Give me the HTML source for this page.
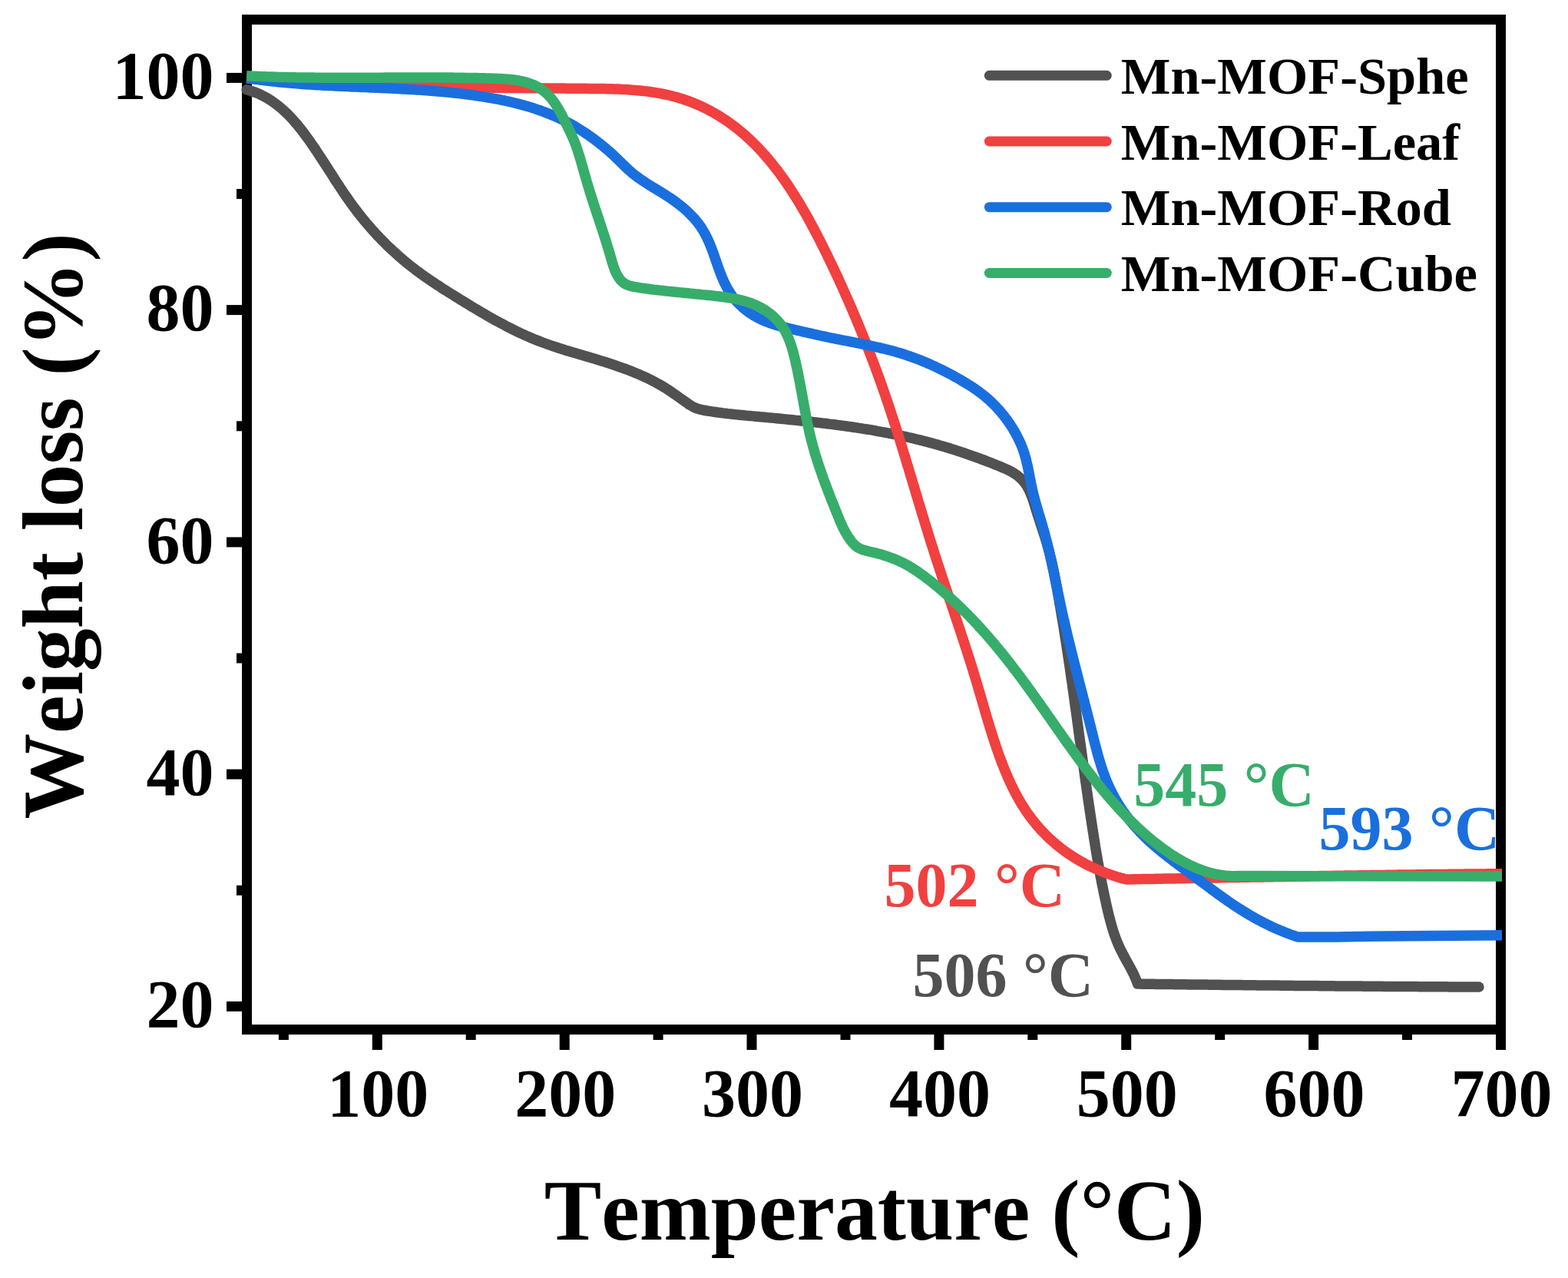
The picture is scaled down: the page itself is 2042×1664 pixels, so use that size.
<!DOCTYPE html>
<html><head><meta charset="utf-8"><title>TGA</title>
<style>html,body{margin:0;padding:0;background:#fff;} svg{display:block;} text{font-kerning:none;}</style></head>
<body>
<svg width="2042" height="1664" viewBox="0 0 2042 1664" font-family="'Liberation Serif', 'Times New Roman', serif" font-weight="bold">
<rect width="2042" height="1664" fill="#fff"/>
<g stroke="#000" stroke-width="13" fill="none">
<rect x="321.5" y="25.5" width="1633" height="1315" />
<line x1="491.3" y1="1340" x2="491.3" y2="1367" /><line x1="735.2" y1="1340" x2="735.2" y2="1367" /><line x1="979.0" y1="1340" x2="979.0" y2="1367" /><line x1="1222.9" y1="1340" x2="1222.9" y2="1367" /><line x1="1466.7" y1="1340" x2="1466.7" y2="1367" /><line x1="1710.6" y1="1340" x2="1710.6" y2="1367" /><line x1="1954.5" y1="1340" x2="1954.5" y2="1367" /><line x1="369.4" y1="1340" x2="369.4" y2="1354" /><line x1="613.2" y1="1340" x2="613.2" y2="1354" /><line x1="857.1" y1="1340" x2="857.1" y2="1354" /><line x1="1101.0" y1="1340" x2="1101.0" y2="1354" /><line x1="1344.8" y1="1340" x2="1344.8" y2="1354" /><line x1="1588.7" y1="1340" x2="1588.7" y2="1354" /><line x1="1832.5" y1="1340" x2="1832.5" y2="1354" /><line x1="295" y1="1310.4" x2="322" y2="1310.4" /><line x1="295" y1="1008.1" x2="322" y2="1008.1" /><line x1="295" y1="705.9" x2="322" y2="705.9" /><line x1="295" y1="403.6" x2="322" y2="403.6" /><line x1="295" y1="101.4" x2="322" y2="101.4" /><line x1="308" y1="1159.3" x2="322" y2="1159.3" /><line x1="308" y1="857.0" x2="322" y2="857.0" /><line x1="308" y1="554.8" x2="322" y2="554.8" /><line x1="308" y1="252.5" x2="322" y2="252.5" />
</g>
<g font-size="88" fill="#000">
<text x="492.3" y="1453" text-anchor="middle">100</text><text x="736.2" y="1453" text-anchor="middle">200</text><text x="980.0" y="1453" text-anchor="middle">300</text><text x="1223.9" y="1453" text-anchor="middle">400</text><text x="1467.7" y="1453" text-anchor="middle">500</text><text x="1711.6" y="1453" text-anchor="middle">600</text><text x="1955.5" y="1453" text-anchor="middle">700</text>
<text x="278.5" y="1337.0" text-anchor="end">20</text><text x="278.5" y="1034.8" text-anchor="end">40</text><text x="278.5" y="732.5" text-anchor="end">60</text><text x="278.5" y="430.2" text-anchor="end">80</text><text x="278.5" y="128.0" text-anchor="end">100</text>
</g>
<g fill="none" stroke-width="13.5" stroke-linejoin="round">
<path d="M321.2,116.8 L324.2,117.6 L327.1,118.5 L330.0,119.5 L332.9,120.5 L335.6,121.6 L338.4,122.8 L341.1,124.1 L343.7,125.5 L346.3,126.9 L348.9,128.4 L351.4,129.9 L353.9,131.5 L356.3,133.2 L358.7,134.9 L361.0,136.7 L363.4,138.6 L365.6,140.5 L367.9,142.4 L370.1,144.4 L372.2,146.4 L374.4,148.5 L376.5,150.6 L378.6,152.8 L380.6,155.0 L382.6,157.2 L384.6,159.5 L386.6,161.8 L388.5,164.1 L390.4,166.5 L392.3,168.8 L394.2,171.2 L396.0,173.7 L397.8,176.1 L399.6,178.6 L401.4,181.0 L403.2,183.5 L404.9,186.0 L406.6,188.5 L408.3,191.0 L410.1,193.5 L411.7,196.0 L413.4,198.5 L415.1,201.1 L416.7,203.6 L418.4,206.1 L420.0,208.6 L421.7,211.1 L423.3,213.7 L424.9,216.2 L426.5,218.7 L428.1,221.2 L429.8,223.7 L431.4,226.2 L433.0,228.7 L434.6,231.3 L436.2,233.8 L437.8,236.3 L439.5,238.8 L441.1,241.2 L442.7,243.7 L444.4,246.2 L446.0,248.7 L447.7,251.2 L449.4,253.6 L451.1,256.1 L452.8,258.5 L454.5,261.0 L456.2,263.4 L457.9,265.8 L459.7,268.2 L461.5,270.6 L463.3,273.0 L465.1,275.4 L466.9,277.8 L468.8,280.1 L470.6,282.5 L472.5,284.8 L474.4,287.1 L476.4,289.5 L478.3,291.8 L480.3,294.0 L482.2,296.3 L484.2,298.6 L486.3,300.8 L488.3,303.1 L490.3,305.3 L492.4,307.5 L494.5,309.7 L496.6,311.8 L498.7,314.0 L500.8,316.1 L502.9,318.2 L505.1,320.4 L507.3,322.4 L509.5,324.5 L511.7,326.6 L513.9,328.6 L516.1,330.6 L518.3,332.6 L520.6,334.6 L522.9,336.5 L525.1,338.5 L527.4,340.4 L529.7,342.3 L532.1,344.2 L534.4,346.0 L536.7,347.9 L539.1,349.7 L541.4,351.5 L543.8,353.3 L546.2,355.0 L548.6,356.8 L551.0,358.5 L553.4,360.2 L555.9,361.9 L558.3,363.6 L560.8,365.2 L563.2,366.9 L565.7,368.5 L568.1,370.2 L570.6,371.8 L573.1,373.4 L575.6,375.1 L578.1,376.7 L580.7,378.3 L583.2,379.9 L585.7,381.5 L588.2,383.0 L590.8,384.6 L593.3,386.2 L595.9,387.8 L598.5,389.4 L601.0,391.0 L603.6,392.6 L606.2,394.2 L608.8,395.7 L611.4,397.3 L614.0,398.9 L616.6,400.5 L619.2,402.0 L621.8,403.6 L624.4,405.1 L627.1,406.7 L629.7,408.2 L632.4,409.8 L635.0,411.3 L637.7,412.8 L640.3,414.3 L643.0,415.8 L645.6,417.3 L648.3,418.7 L651.0,420.2 L653.7,421.6 L656.4,423.0 L659.0,424.5 L661.7,425.9 L664.4,427.2 L667.2,428.6 L669.9,429.9 L672.6,431.3 L675.3,432.6 L678.0,433.9 L680.8,435.1 L683.5,436.4 L686.2,437.6 L689.0,438.8 L691.7,440.0 L694.5,441.1 L697.2,442.3 L700.0,443.4 L702.7,444.4 L705.5,445.5 L708.3,446.5 L711.1,447.5 L713.8,448.5 L716.6,449.5 L719.4,450.5 L722.2,451.4 L725.0,452.3 L727.8,453.2 L730.6,454.1 L733.4,455.0 L736.2,455.9 L739.0,456.7 L741.8,457.6 L744.6,458.4 L747.4,459.3 L750.3,460.1 L753.1,460.9 L755.9,461.8 L758.7,462.6 L761.6,463.4 L764.4,464.3 L767.2,465.1 L770.1,465.9 L772.9,466.8 L775.8,467.6 L778.6,468.5 L781.5,469.4 L784.3,470.2 L787.2,471.1 L790.0,472.0 L792.9,472.9 L795.7,473.9 L798.6,474.8 L801.5,475.8 L804.3,476.8 L807.2,477.8 L810.1,478.8 L812.9,479.8 L815.8,480.9 L818.7,482.0 L821.6,483.1 L824.4,484.2 L827.3,485.4 L830.1,486.6 L833.0,487.8 L835.8,489.1 L838.6,490.3 L841.4,491.6 L844.2,492.9 L846.9,494.3 L849.6,495.7 L852.3,497.0 L854.9,498.5 L857.6,499.9 L860.1,501.4 L862.7,502.9 L865.2,504.4 L867.6,505.9 L870.1,507.5 L872.5,509.1 L874.9,510.7 L877.3,512.4 L879.7,514.1 L882.1,515.8 L884.6,517.5 L887.0,519.2 L889.5,521.0 L892.0,522.8 L894.5,524.6 L897.1,526.4 L899.7,528.0 L902.3,529.5 L905.0,530.8 L907.7,531.8 L910.4,532.7 L913.2,533.4 L915.9,534.0 L918.7,534.5 L921.5,535.0 L924.4,535.4 L927.2,535.9 L930.1,536.3 L933.0,536.7 L935.9,537.1 L938.9,537.5 L941.8,537.9 L944.8,538.2 L947.8,538.6 L950.7,538.9 L953.7,539.3 L956.7,539.6 L959.8,539.9 L962.8,540.2 L965.8,540.5 L968.8,540.8 L971.9,541.1 L974.9,541.4 L978.0,541.6 L981.0,541.9 L984.1,542.2 L987.1,542.5 L990.2,542.8 L993.2,543.0 L996.2,543.3 L999.3,543.6 L1002.3,543.9 L1005.3,544.1 L1008.4,544.4 L1011.4,544.7 L1014.4,545.0 L1017.4,545.3 L1020.4,545.6 L1023.5,545.9 L1026.5,546.2 L1029.5,546.5 L1032.5,546.8 L1035.5,547.1 L1038.5,547.4 L1041.5,547.7 L1044.5,548.0 L1047.5,548.3 L1050.5,548.6 L1053.5,549.0 L1056.5,549.3 L1059.5,549.6 L1062.5,549.9 L1065.4,550.3 L1068.4,550.6 L1071.4,551.0 L1074.4,551.3 L1077.4,551.7 L1080.3,552.1 L1083.3,552.4 L1086.3,552.8 L1089.3,553.2 L1092.2,553.6 L1095.2,554.0 L1098.1,554.4 L1101.1,554.8 L1104.1,555.2 L1107.0,555.6 L1110.0,556.0 L1112.9,556.5 L1115.9,556.9 L1118.8,557.4 L1121.8,557.8 L1124.7,558.3 L1127.7,558.8 L1130.6,559.2 L1133.5,559.7 L1136.5,560.2 L1139.4,560.7 L1142.3,561.3 L1145.3,561.8 L1148.2,562.3 L1151.1,562.8 L1154.1,563.4 L1157.0,564.0 L1159.9,564.5 L1162.8,565.1 L1165.7,565.7 L1168.7,566.3 L1171.6,566.9 L1174.5,567.5 L1177.4,568.2 L1180.3,568.8 L1183.2,569.5 L1186.1,570.1 L1189.0,570.8 L1191.9,571.5 L1194.8,572.2 L1197.7,572.9 L1200.6,573.6 L1203.5,574.4 L1206.4,575.1 L1209.3,575.9 L1212.2,576.6 L1215.1,577.4 L1218.0,578.2 L1220.9,579.0 L1223.8,579.9 L1226.7,580.7 L1229.6,581.6 L1232.4,582.4 L1235.3,583.3 L1238.2,584.2 L1241.1,585.1 L1244.0,586.0 L1246.8,587.0 L1249.7,587.9 L1252.6,588.9 L1255.4,589.8 L1258.3,590.8 L1261.2,591.8 L1264.0,592.8 L1266.9,593.8 L1269.8,594.8 L1272.6,595.9 L1275.5,596.9 L1278.3,598.0 L1281.2,599.0 L1284.0,600.1 L1286.8,601.2 L1289.7,602.3 L1292.5,603.4 L1295.3,604.6 L1298.2,605.7 L1301.0,606.8 L1303.8,608.0 L1306.6,609.2 L1309.4,610.4 L1312.1,611.6 L1314.8,613.0 L1317.4,614.3 L1320.0,615.8 L1322.4,617.4 L1324.8,619.1 L1327.0,620.9 L1329.2,622.8 L1331.2,624.8 L1333.1,627.0 L1334.8,629.3 L1336.5,631.6 L1338.0,634.1 L1339.4,636.6 L1340.7,639.2 L1341.9,641.9 L1343.0,644.6 L1344.1,647.4 L1345.1,650.2 L1346.0,653.1 L1346.9,655.9 L1347.8,658.8 L1348.7,661.8 L1349.6,664.7 L1350.5,667.6 L1351.4,670.5 L1352.4,673.4 L1353.3,676.3 L1354.3,679.3 L1355.2,682.2 L1356.2,685.1 L1357.1,688.0 L1358.1,690.9 L1359.0,693.8 L1360.0,696.7 L1360.9,699.6 L1361.8,702.6 L1362.7,705.5 L1363.5,708.4 L1364.4,711.3 L1365.2,714.2 L1366.0,717.1 L1366.7,720.0 L1367.5,723.0 L1368.2,725.9 L1368.9,728.8 L1369.6,731.7 L1370.2,734.6 L1370.9,737.5 L1371.5,740.4 L1372.1,743.4 L1372.7,746.3 L1373.3,749.2 L1373.8,752.1 L1374.4,755.0 L1375.0,758.0 L1375.5,760.9 L1376.0,763.8 L1376.6,766.8 L1377.1,769.7 L1377.6,772.6 L1378.2,775.5 L1378.7,778.5 L1379.2,781.4 L1379.7,784.3 L1380.2,787.3 L1380.7,790.2 L1381.2,793.2 L1381.7,796.1 L1382.2,799.0 L1382.7,802.0 L1383.2,804.9 L1383.7,807.9 L1384.2,810.8 L1384.7,813.8 L1385.2,816.7 L1385.6,819.7 L1386.1,822.6 L1386.6,825.6 L1387.0,828.5 L1387.5,831.5 L1388.0,834.4 L1388.4,837.4 L1388.9,840.3 L1389.3,843.3 L1389.8,846.2 L1390.2,849.2 L1390.7,852.2 L1391.1,855.1 L1391.6,858.1 L1392.0,861.0 L1392.4,864.0 L1392.9,867.0 L1393.3,869.9 L1393.7,872.9 L1394.2,875.9 L1394.6,878.8 L1395.0,881.8 L1395.4,884.8 L1395.9,887.7 L1396.3,890.7 L1396.7,893.7 L1397.1,896.6 L1397.6,899.6 L1398.0,902.6 L1398.4,905.6 L1398.8,908.5 L1399.2,911.5 L1399.6,914.5 L1400.0,917.4 L1400.4,920.4 L1400.9,923.4 L1401.3,926.4 L1401.7,929.3 L1402.1,932.3 L1402.5,935.3 L1402.9,938.3 L1403.3,941.3 L1403.7,944.2 L1404.1,947.2 L1404.5,950.2 L1404.9,953.2 L1405.3,956.1 L1405.7,959.1 L1406.1,962.1 L1406.5,965.1 L1407.0,968.1 L1407.4,971.0 L1407.8,974.0 L1408.2,977.0 L1408.6,980.0 L1409.0,983.0 L1409.4,985.9 L1409.8,988.9 L1410.2,991.9 L1410.6,994.9 L1411.0,997.9 L1411.5,1000.8 L1411.9,1003.8 L1412.3,1006.8 L1412.7,1009.8 L1413.1,1012.8 L1413.5,1015.7 L1413.9,1018.7 L1414.4,1021.7 L1414.8,1024.7 L1415.2,1027.7 L1415.6,1030.6 L1416.1,1033.6 L1416.5,1036.6 L1416.9,1039.6 L1417.3,1042.6 L1417.8,1045.5 L1418.2,1048.5 L1418.7,1051.5 L1419.1,1054.5 L1419.5,1057.4 L1420.0,1060.4 L1420.4,1063.4 L1420.9,1066.4 L1421.3,1069.3 L1421.8,1072.3 L1422.2,1075.3 L1422.7,1078.3 L1423.1,1081.2 L1423.6,1084.2 L1424.1,1087.2 L1424.5,1090.2 L1425.0,1093.1 L1425.5,1096.1 L1426.0,1099.1 L1426.4,1102.0 L1426.9,1105.0 L1427.4,1108.0 L1427.9,1110.9 L1428.4,1113.9 L1428.9,1116.9 L1429.4,1119.8 L1429.9,1122.8 L1430.5,1125.7 L1431.0,1128.7 L1431.5,1131.6 L1432.1,1134.6 L1432.6,1137.5 L1433.1,1140.5 L1433.7,1143.4 L1434.3,1146.3 L1434.8,1149.3 L1435.4,1152.2 L1436.0,1155.1 L1436.6,1158.0 L1437.2,1161.0 L1437.8,1163.9 L1438.4,1166.8 L1439.0,1169.7 L1439.7,1172.6 L1440.3,1175.5 L1440.9,1178.4 L1441.6,1181.3 L1442.3,1184.1 L1442.9,1187.0 L1443.6,1189.9 L1444.3,1192.8 L1445.1,1195.6 L1445.8,1198.5 L1446.6,1201.3 L1447.4,1204.2 L1448.2,1207.0 L1449.0,1209.8 L1449.9,1212.7 L1450.8,1215.5 L1451.8,1218.3 L1452.8,1221.1 L1453.9,1223.9 L1455.0,1226.7 L1456.2,1229.5 L1457.4,1232.3 L1458.7,1235.1 L1460.1,1237.8 L1461.5,1240.6 L1462.9,1243.4 L1464.4,1246.1 L1465.9,1248.9 L1467.4,1251.6 L1468.9,1254.3 L1470.4,1257.0 L1471.9,1259.7 L1473.3,1262.4 L1474.7,1265.1 L1476.1,1267.8 L1477.3,1270.5 L1478.5,1273.2 L1479.6,1275.8 L1480.6,1278.5 L1481.5,1281.1 L1481.5,1281.1 L1484.5,1281.1 L1487.5,1281.2 L1490.5,1281.2 L1493.5,1281.2 L1496.5,1281.3 L1499.5,1281.3 L1502.5,1281.3 L1505.5,1281.4 L1508.5,1281.4 L1511.5,1281.4 L1514.5,1281.5 L1517.5,1281.5 L1520.5,1281.6 L1523.5,1281.6 L1526.5,1281.6 L1529.6,1281.7 L1532.6,1281.7 L1535.6,1281.7 L1538.6,1281.8 L1541.6,1281.8 L1544.6,1281.8 L1547.6,1281.9 L1550.6,1281.9 L1553.6,1281.9 L1556.6,1282.0 L1559.6,1282.0 L1562.6,1282.0 L1565.6,1282.1 L1568.6,1282.1 L1571.6,1282.1 L1574.6,1282.2 L1577.6,1282.2 L1580.6,1282.2 L1583.6,1282.3 L1586.6,1282.3 L1589.6,1282.3 L1592.6,1282.4 L1595.6,1282.4 L1598.6,1282.4 L1601.6,1282.5 L1604.6,1282.5 L1607.6,1282.5 L1610.6,1282.6 L1613.6,1282.6 L1616.6,1282.6 L1619.7,1282.7 L1622.7,1282.7 L1625.7,1282.7 L1628.7,1282.8 L1631.7,1282.8 L1634.7,1282.8 L1637.7,1282.9 L1640.7,1282.9 L1643.7,1282.9 L1646.7,1283.0 L1649.7,1283.0 L1652.7,1283.0 L1655.7,1283.1 L1658.7,1283.1 L1661.7,1283.1 L1664.7,1283.1 L1667.7,1283.2 L1670.7,1283.2 L1673.7,1283.2 L1676.7,1283.3 L1679.7,1283.3 L1682.7,1283.3 L1685.7,1283.4 L1688.7,1283.4 L1691.7,1283.4 L1694.7,1283.4 L1697.7,1283.5 L1700.7,1283.5 L1703.7,1283.5 L1706.7,1283.6 L1709.8,1283.6 L1712.8,1283.6 L1715.8,1283.6 L1718.8,1283.7 L1721.8,1283.7 L1724.8,1283.7 L1727.8,1283.8 L1730.8,1283.8 L1733.8,1283.8 L1736.8,1283.8 L1739.8,1283.9 L1742.8,1283.9 L1745.8,1283.9 L1748.8,1283.9 L1751.8,1284.0 L1754.8,1284.0 L1757.8,1284.0 L1760.8,1284.0 L1763.8,1284.1 L1766.8,1284.1 L1769.8,1284.1 L1772.8,1284.1 L1775.8,1284.2 L1778.8,1284.2 L1781.8,1284.2 L1784.8,1284.2 L1787.8,1284.3 L1790.8,1284.3 L1793.8,1284.3 L1796.9,1284.3 L1799.9,1284.3 L1802.9,1284.4 L1805.9,1284.4 L1808.9,1284.4 L1811.9,1284.4 L1814.9,1284.4 L1817.9,1284.5 L1820.9,1284.5 L1823.9,1284.5 L1826.9,1284.5 L1829.9,1284.5 L1832.9,1284.6 L1835.9,1284.6 L1838.9,1284.6 L1841.9,1284.6 L1844.9,1284.6 L1847.9,1284.7 L1850.9,1284.7 L1853.9,1284.7 L1856.9,1284.7 L1859.9,1284.7 L1862.9,1284.7 L1865.9,1284.8 L1868.9,1284.8 L1871.9,1284.8 L1874.9,1284.8 L1877.9,1284.8 L1880.9,1284.8 L1884.0,1284.8 L1887.0,1284.9 L1890.0,1284.9 L1893.0,1284.9 L1896.0,1284.9 L1899.0,1284.9 L1902.0,1284.9 L1905.0,1284.9 L1908.0,1284.9 L1911.0,1285.0 L1914.0,1285.0 L1917.0,1285.0 L1920.0,1285.0 L1923.0,1285.0 L1926.0,1285.0" stroke="#515151" stroke-linecap="round" />
<path d="M321.2,102.0 L324.2,102.2 L327.3,102.4 L330.3,102.6 L333.3,102.8 L336.4,103.0 L339.4,103.2 L342.4,103.4 L345.5,103.6 L348.5,103.8 L351.5,104.0 L354.5,104.2 L357.6,104.4 L360.6,104.6 L363.6,104.7 L366.6,104.9 L369.6,105.1 L372.6,105.3 L375.6,105.4 L378.7,105.6 L381.7,105.8 L384.7,105.9 L387.7,106.1 L390.7,106.3 L393.7,106.4 L396.7,106.6 L399.7,106.8 L402.7,106.9 L405.7,107.1 L408.7,107.2 L411.7,107.4 L414.7,107.5 L417.7,107.7 L420.7,107.8 L423.7,107.9 L426.7,108.1 L429.7,108.2 L432.7,108.3 L435.7,108.5 L438.7,108.6 L441.7,108.7 L444.7,108.9 L447.6,109.0 L450.6,109.1 L453.6,109.2 L456.6,109.4 L459.6,109.5 L462.6,109.6 L465.6,109.7 L468.6,109.8 L471.5,110.0 L474.5,110.1 L477.5,110.2 L480.5,110.3 L483.5,110.4 L486.5,110.5 L489.4,110.6 L492.4,110.7 L495.4,110.8 L498.4,110.9 L501.4,111.0 L504.4,111.1 L507.3,111.2 L510.3,111.3 L513.3,111.4 L516.3,111.5 L519.3,111.6 L522.2,111.6 L525.2,111.7 L528.2,111.8 L531.2,111.9 L534.2,112.0 L537.1,112.1 L540.1,112.1 L543.1,112.2 L546.1,112.3 L549.1,112.4 L552.1,112.4 L555.0,112.5 L558.0,112.6 L561.0,112.7 L564.0,112.7 L567.0,112.8 L569.9,112.9 L572.9,112.9 L575.9,113.0 L578.9,113.1 L581.9,113.1 L584.9,113.2 L587.9,113.2 L590.8,113.3 L593.8,113.4 L596.8,113.4 L599.8,113.5 L602.8,113.5 L605.8,113.6 L608.8,113.6 L611.8,113.7 L614.8,113.7 L617.8,113.8 L620.7,113.8 L623.7,113.9 L626.7,113.9 L629.7,114.0 L632.7,114.0 L635.7,114.1 L638.7,114.1 L641.7,114.2 L644.7,114.2 L647.7,114.2 L650.7,114.3 L653.7,114.3 L656.7,114.4 L659.7,114.4 L662.8,114.4 L665.8,114.5 L668.8,114.5 L671.8,114.5 L674.8,114.6 L677.8,114.6 L680.8,114.6 L683.8,114.7 L686.9,114.7 L689.9,114.7 L692.9,114.8 L695.9,114.8 L698.9,114.8 L702.0,114.9 L705.0,114.9 L708.0,114.9 L711.0,114.9 L714.1,115.0 L717.1,115.0 L720.1,115.0 L723.2,115.0 L726.2,115.1 L729.3,115.1 L732.3,115.1 L735.3,115.1 L738.4,115.2 L741.4,115.2 L744.5,115.2 L747.5,115.2 L750.6,115.3 L753.6,115.3 L756.7,115.3 L759.7,115.3 L762.8,115.3 L765.9,115.4 L768.9,115.4 L772.0,115.4 L775.0,115.4 L778.1,115.5 L781.2,115.5 L784.2,115.6 L787.3,115.6 L790.4,115.7 L793.4,115.7 L796.5,115.8 L799.5,115.9 L802.6,116.0 L805.6,116.1 L808.7,116.3 L811.7,116.4 L814.8,116.6 L817.8,116.8 L820.8,117.0 L823.8,117.2 L826.9,117.4 L829.9,117.7 L832.9,118.0 L835.9,118.3 L838.9,118.6 L841.9,118.9 L844.8,119.3 L847.8,119.7 L850.8,120.1 L853.7,120.6 L856.7,121.1 L859.6,121.6 L862.5,122.2 L865.4,122.8 L868.3,123.4 L871.2,124.0 L874.1,124.7 L877.0,125.5 L879.8,126.2 L882.7,127.0 L885.5,127.9 L888.3,128.7 L891.1,129.7 L893.9,130.6 L896.7,131.6 L899.5,132.7 L902.2,133.7 L904.9,134.9 L907.7,136.0 L910.4,137.2 L913.0,138.4 L915.7,139.7 L918.4,141.0 L921.0,142.3 L923.6,143.6 L926.2,145.0 L928.8,146.5 L931.3,147.9 L933.9,149.4 L936.4,150.9 L938.9,152.5 L941.4,154.1 L943.8,155.7 L946.3,157.3 L948.7,159.0 L951.1,160.7 L953.5,162.4 L955.8,164.2 L958.2,166.0 L960.5,167.8 L962.7,169.6 L965.0,171.5 L967.2,173.4 L969.5,175.3 L971.7,177.3 L973.8,179.2 L976.0,181.2 L978.1,183.3 L980.3,185.3 L982.3,187.4 L984.4,189.4 L986.5,191.6 L988.5,193.7 L990.5,195.8 L992.5,198.0 L994.5,200.2 L996.5,202.4 L998.4,204.7 L1000.4,206.9 L1002.3,209.2 L1004.2,211.5 L1006.0,213.8 L1007.9,216.2 L1009.7,218.5 L1011.6,220.9 L1013.4,223.3 L1015.2,225.7 L1016.9,228.1 L1018.7,230.5 L1020.5,233.0 L1022.2,235.4 L1023.9,237.9 L1025.6,240.4 L1027.3,242.9 L1029.0,245.4 L1030.6,248.0 L1032.3,250.5 L1033.9,253.1 L1035.5,255.6 L1037.1,258.2 L1038.7,260.8 L1040.3,263.4 L1041.9,266.0 L1043.5,268.7 L1045.0,271.3 L1046.5,273.9 L1048.1,276.6 L1049.6,279.3 L1051.1,281.9 L1052.6,284.6 L1054.1,287.3 L1055.5,290.0 L1057.0,292.7 L1058.4,295.4 L1059.9,298.1 L1061.3,300.8 L1062.7,303.5 L1064.2,306.3 L1065.6,309.0 L1067.0,311.7 L1068.4,314.5 L1069.7,317.2 L1071.1,319.9 L1072.5,322.7 L1073.8,325.4 L1075.2,328.2 L1076.6,330.9 L1077.9,333.7 L1079.2,336.4 L1080.6,339.2 L1081.9,341.9 L1083.2,344.7 L1084.5,347.4 L1085.8,350.2 L1087.1,352.9 L1088.4,355.7 L1089.7,358.4 L1091.0,361.2 L1092.3,363.9 L1093.5,366.7 L1094.8,369.4 L1096.0,372.2 L1097.3,375.0 L1098.5,377.7 L1099.8,380.5 L1101.0,383.2 L1102.2,386.0 L1103.5,388.8 L1104.7,391.5 L1105.9,394.3 L1107.1,397.1 L1108.3,399.8 L1109.5,402.6 L1110.7,405.4 L1111.8,408.1 L1113.0,410.9 L1114.2,413.7 L1115.4,416.4 L1116.5,419.2 L1117.7,422.0 L1118.8,424.7 L1119.9,427.5 L1121.1,430.3 L1122.2,433.1 L1123.3,435.8 L1124.5,438.6 L1125.6,441.4 L1126.7,444.2 L1127.8,447.0 L1128.9,449.7 L1130.0,452.5 L1131.0,455.3 L1132.1,458.1 L1133.2,460.9 L1134.3,463.7 L1135.3,466.5 L1136.4,469.2 L1137.4,472.0 L1138.5,474.8 L1139.5,477.6 L1140.6,480.4 L1141.6,483.2 L1142.6,486.0 L1143.6,488.8 L1144.7,491.6 L1145.7,494.4 L1146.7,497.2 L1147.7,500.0 L1148.7,502.8 L1149.6,505.6 L1150.6,508.4 L1151.6,511.2 L1152.6,514.0 L1153.6,516.8 L1154.5,519.7 L1155.5,522.5 L1156.4,525.3 L1157.4,528.1 L1158.3,530.9 L1159.3,533.7 L1160.2,536.6 L1161.1,539.4 L1162.0,542.2 L1163.0,545.0 L1163.9,547.9 L1164.8,550.7 L1165.7,553.5 L1166.6,556.3 L1167.5,559.2 L1168.4,562.0 L1169.3,564.8 L1170.2,567.7 L1171.1,570.5 L1172.0,573.3 L1172.8,576.2 L1173.7,579.0 L1174.6,581.9 L1175.5,584.7 L1176.3,587.5 L1177.2,590.4 L1178.1,593.2 L1179.0,596.1 L1179.8,598.9 L1180.7,601.8 L1181.5,604.6 L1182.4,607.5 L1183.3,610.3 L1184.1,613.2 L1185.0,616.0 L1185.8,618.9 L1186.7,621.7 L1187.6,624.6 L1188.4,627.4 L1189.3,630.3 L1190.1,633.1 L1191.0,636.0 L1191.8,638.9 L1192.7,641.7 L1193.5,644.6 L1194.4,647.4 L1195.3,650.3 L1196.1,653.2 L1197.0,656.0 L1197.9,658.9 L1198.7,661.8 L1199.6,664.6 L1200.4,667.5 L1201.3,670.4 L1202.2,673.2 L1203.1,676.1 L1203.9,679.0 L1204.8,681.8 L1205.7,684.7 L1206.6,687.6 L1207.5,690.4 L1208.4,693.3 L1209.2,696.2 L1210.1,699.1 L1211.0,701.9 L1211.9,704.8 L1212.8,707.7 L1213.8,710.6 L1214.7,713.4 L1215.6,716.3 L1216.5,719.2 L1217.4,722.1 L1218.4,724.9 L1219.3,727.8 L1220.2,730.7 L1221.2,733.6 L1222.1,736.5 L1223.1,739.3 L1224.0,742.2 L1225.0,745.1 L1225.9,748.0 L1226.9,750.9 L1227.8,753.7 L1228.8,756.6 L1229.7,759.5 L1230.7,762.4 L1231.7,765.3 L1232.6,768.1 L1233.6,771.0 L1234.6,773.9 L1235.5,776.8 L1236.5,779.7 L1237.5,782.5 L1238.5,785.4 L1239.4,788.3 L1240.4,791.2 L1241.4,794.1 L1242.3,797.0 L1243.3,799.8 L1244.3,802.7 L1245.2,805.6 L1246.2,808.5 L1247.2,811.4 L1248.1,814.2 L1249.1,817.1 L1250.1,820.0 L1251.0,822.9 L1252.0,825.8 L1252.9,828.7 L1253.9,831.5 L1254.8,834.4 L1255.8,837.3 L1256.7,840.2 L1257.6,843.1 L1258.6,845.9 L1259.5,848.8 L1260.4,851.7 L1261.3,854.6 L1262.3,857.5 L1263.2,860.3 L1264.1,863.2 L1265.0,866.1 L1265.9,869.0 L1266.8,871.8 L1267.7,874.7 L1268.5,877.6 L1269.4,880.5 L1270.3,883.3 L1271.2,886.2 L1272.0,889.1 L1272.9,892.0 L1273.7,894.8 L1274.6,897.7 L1275.4,900.6 L1276.3,903.5 L1277.1,906.3 L1277.9,909.2 L1278.8,912.1 L1279.6,914.9 L1280.4,917.8 L1281.3,920.7 L1282.1,923.5 L1282.9,926.4 L1283.8,929.3 L1284.6,932.1 L1285.5,935.0 L1286.3,937.8 L1287.2,940.7 L1288.1,943.5 L1288.9,946.4 L1289.8,949.2 L1290.7,952.1 L1291.6,954.9 L1292.5,957.8 L1293.4,960.6 L1294.3,963.4 L1295.3,966.3 L1296.2,969.1 L1297.2,971.9 L1298.1,974.8 L1299.1,977.6 L1300.1,980.4 L1301.1,983.2 L1302.1,986.1 L1303.2,988.9 L1304.2,991.7 L1305.3,994.5 L1306.4,997.3 L1307.5,1000.1 L1308.6,1002.9 L1309.8,1005.6 L1310.9,1008.4 L1312.1,1011.2 L1313.3,1013.9 L1314.6,1016.7 L1315.8,1019.4 L1317.1,1022.1 L1318.4,1024.8 L1319.7,1027.5 L1321.1,1030.1 L1322.4,1032.8 L1323.8,1035.4 L1325.3,1038.0 L1326.7,1040.6 L1328.2,1043.2 L1329.7,1045.7 L1331.2,1048.2 L1332.8,1050.7 L1334.4,1053.2 L1336.0,1055.7 L1337.7,1058.1 L1339.4,1060.5 L1341.1,1062.9 L1342.9,1065.3 L1344.7,1067.6 L1346.5,1069.9 L1348.3,1072.1 L1350.2,1074.4 L1352.1,1076.6 L1354.1,1078.8 L1356.0,1081.0 L1358.0,1083.1 L1360.1,1085.2 L1362.1,1087.3 L1364.2,1089.3 L1366.3,1091.4 L1368.5,1093.3 L1370.7,1095.3 L1372.9,1097.2 L1375.1,1099.1 L1377.4,1101.0 L1379.7,1102.9 L1382.0,1104.7 L1384.3,1106.5 L1386.7,1108.2 L1389.1,1109.9 L1391.6,1111.6 L1394.0,1113.3 L1396.5,1114.9 L1399.0,1116.5 L1401.6,1118.1 L1404.1,1119.6 L1406.7,1121.1 L1409.3,1122.6 L1412.0,1124.0 L1414.7,1125.4 L1417.4,1126.8 L1420.1,1128.1 L1422.8,1129.4 L1425.6,1130.7 L1428.4,1131.9 L1431.2,1133.1 L1434.1,1134.3 L1437.0,1135.4 L1439.9,1136.6 L1442.8,1137.6 L1445.7,1138.7 L1448.7,1139.7 L1451.7,1140.6 L1454.7,1141.6 L1457.7,1142.5 L1460.8,1143.4 L1463.9,1144.2 L1467.0,1145.0 L1467.0,1145.0 L1470.0,1144.9 L1473.0,1144.9 L1476.0,1144.8 L1479.0,1144.8 L1482.0,1144.7 L1485.0,1144.7 L1488.0,1144.6 L1491.0,1144.6 L1494.0,1144.5 L1497.0,1144.5 L1500.0,1144.4 L1503.0,1144.4 L1506.0,1144.3 L1509.0,1144.3 L1512.0,1144.2 L1515.0,1144.1 L1518.0,1144.1 L1521.0,1144.0 L1524.0,1144.0 L1527.0,1143.9 L1530.0,1143.9 L1533.0,1143.8 L1536.0,1143.8 L1539.0,1143.7 L1542.0,1143.7 L1545.0,1143.6 L1548.0,1143.6 L1551.0,1143.5 L1554.0,1143.4 L1557.0,1143.4 L1560.0,1143.3 L1563.0,1143.3 L1566.0,1143.2 L1569.0,1143.2 L1572.0,1143.1 L1575.0,1143.1 L1578.0,1143.0 L1581.0,1143.0 L1584.0,1142.9 L1587.0,1142.9 L1590.0,1142.8 L1593.0,1142.8 L1596.0,1142.7 L1599.0,1142.6 L1602.0,1142.6 L1605.0,1142.5 L1608.0,1142.5 L1611.0,1142.4 L1614.0,1142.4 L1617.0,1142.3 L1620.0,1142.3 L1623.0,1142.2 L1626.0,1142.2 L1629.0,1142.1 L1632.0,1142.1 L1635.0,1142.0 L1638.0,1142.0 L1641.0,1141.9 L1644.0,1141.9 L1647.0,1141.8 L1650.0,1141.8 L1653.0,1141.7 L1656.0,1141.7 L1659.0,1141.6 L1662.0,1141.6 L1665.0,1141.5 L1668.0,1141.5 L1671.0,1141.4 L1674.0,1141.4 L1677.0,1141.3 L1680.0,1141.3 L1683.0,1141.2 L1686.0,1141.2 L1689.0,1141.1 L1692.0,1141.1 L1695.0,1141.0 L1698.0,1141.0 L1701.0,1140.9 L1704.0,1140.9 L1707.0,1140.8 L1710.0,1140.8 L1713.0,1140.7 L1716.0,1140.7 L1719.0,1140.6 L1722.0,1140.6 L1725.0,1140.5 L1728.0,1140.5 L1731.0,1140.4 L1734.0,1140.4 L1737.0,1140.3 L1740.0,1140.3 L1743.0,1140.2 L1746.0,1140.2 L1749.0,1140.2 L1752.0,1140.1 L1755.0,1140.1 L1758.0,1140.0 L1761.0,1140.0 L1764.0,1139.9 L1767.0,1139.9 L1770.0,1139.8 L1773.0,1139.8 L1776.0,1139.8 L1779.0,1139.7 L1782.0,1139.7 L1785.0,1139.6 L1788.0,1139.6 L1791.0,1139.5 L1794.0,1139.5 L1797.0,1139.5 L1800.0,1139.4 L1803.0,1139.4 L1806.0,1139.3 L1809.0,1139.3 L1812.0,1139.3 L1815.0,1139.2 L1818.0,1139.2 L1821.0,1139.1 L1824.0,1139.1 L1827.0,1139.1 L1830.0,1139.0 L1833.0,1139.0 L1836.0,1138.9 L1839.0,1138.9 L1842.0,1138.9 L1845.0,1138.8 L1848.0,1138.8 L1851.0,1138.8 L1854.0,1138.7 L1857.0,1138.7 L1860.0,1138.6 L1863.0,1138.6 L1866.0,1138.6 L1869.0,1138.5 L1872.0,1138.5 L1875.0,1138.5 L1878.0,1138.4 L1881.0,1138.4 L1884.0,1138.4 L1887.0,1138.3 L1890.0,1138.3 L1893.0,1138.3 L1896.0,1138.2 L1899.0,1138.2 L1902.0,1138.2 L1905.0,1138.2 L1908.0,1138.1 L1911.0,1138.1 L1914.0,1138.1 L1917.0,1138.0 L1920.0,1138.0 L1923.0,1138.0 L1926.0,1138.0 L1929.0,1137.9 L1932.0,1137.9 L1935.0,1137.9 L1938.0,1137.8 L1941.0,1137.8 L1944.0,1137.8 L1947.0,1137.8 L1950.0,1137.7 L1953.0,1137.7 L1956.0,1137.7" stroke="#F14040" stroke-linecap="butt" />
<path d="M321.2,101.5 L324.1,101.9 L327.0,102.4 L329.9,102.8 L332.7,103.2 L335.7,103.6 L338.6,104.0 L341.5,104.4 L344.4,104.7 L347.3,105.1 L350.2,105.4 L353.2,105.8 L356.1,106.1 L359.1,106.4 L362.0,106.7 L365.0,107.0 L367.9,107.3 L370.9,107.6 L373.8,107.8 L376.8,108.1 L379.8,108.3 L382.8,108.6 L385.7,108.8 L388.7,109.1 L391.7,109.3 L394.7,109.5 L397.7,109.7 L400.7,109.9 L403.7,110.1 L406.7,110.3 L409.7,110.5 L412.7,110.7 L415.8,110.8 L418.8,111.0 L421.8,111.2 L424.8,111.3 L427.8,111.5 L430.9,111.6 L433.9,111.8 L436.9,111.9 L440.0,112.1 L443.0,112.2 L446.0,112.3 L449.1,112.5 L452.1,112.6 L455.2,112.7 L458.2,112.9 L461.2,113.0 L464.3,113.1 L467.3,113.3 L470.4,113.4 L473.4,113.5 L476.5,113.6 L479.5,113.8 L482.6,113.9 L485.6,114.0 L488.7,114.2 L491.7,114.3 L494.8,114.4 L497.8,114.5 L500.9,114.7 L503.9,114.8 L507.0,115.0 L510.0,115.1 L513.1,115.3 L516.1,115.4 L519.2,115.6 L522.2,115.7 L525.2,115.9 L528.3,116.0 L531.3,116.2 L534.4,116.4 L537.4,116.6 L540.4,116.8 L543.5,116.9 L546.5,117.1 L549.5,117.3 L552.6,117.6 L555.6,117.8 L558.6,118.0 L561.7,118.2 L564.7,118.5 L567.7,118.7 L570.7,119.0 L573.7,119.2 L576.7,119.5 L579.7,119.8 L582.7,120.1 L585.7,120.4 L588.7,120.7 L591.7,121.0 L594.7,121.3 L597.7,121.6 L600.7,122.0 L603.7,122.3 L606.6,122.7 L609.6,123.1 L612.6,123.5 L615.5,123.9 L618.5,124.3 L621.4,124.7 L624.4,125.2 L627.3,125.6 L630.3,126.1 L633.2,126.6 L636.1,127.1 L639.1,127.6 L642.0,128.1 L644.9,128.6 L647.8,129.2 L650.7,129.7 L653.6,130.3 L656.5,130.9 L659.4,131.5 L662.2,132.1 L665.1,132.8 L668.0,133.5 L670.8,134.2 L673.7,134.9 L676.5,135.6 L679.4,136.4 L682.2,137.1 L685.0,137.9 L687.8,138.8 L690.7,139.6 L693.5,140.5 L696.3,141.4 L699.0,142.3 L701.8,143.3 L704.6,144.2 L707.4,145.3 L710.1,146.3 L712.9,147.4 L715.6,148.5 L718.4,149.6 L721.1,150.7 L723.8,151.9 L726.5,153.2 L729.2,154.4 L731.9,155.7 L734.6,157.0 L737.3,158.4 L739.9,159.8 L742.6,161.2 L745.2,162.7 L747.9,164.2 L750.5,165.7 L753.1,167.3 L755.7,168.9 L758.3,170.6 L760.9,172.2 L763.4,174.0 L766.0,175.7 L768.5,177.5 L771.0,179.3 L773.5,181.1 L776.0,182.9 L778.5,184.8 L780.9,186.7 L783.3,188.6 L785.7,190.6 L788.0,192.6 L790.4,194.5 L792.7,196.5 L795.0,198.5 L797.2,200.6 L799.4,202.6 L801.6,204.7 L803.8,206.7 L805.9,208.8 L808.0,210.8 L810.1,212.9 L812.2,215.0 L814.3,217.0 L816.4,219.0 L818.5,221.0 L820.7,222.9 L822.9,224.8 L825.1,226.7 L827.4,228.5 L829.7,230.2 L832.1,232.0 L834.5,233.6 L836.9,235.3 L839.4,236.9 L841.8,238.5 L844.3,240.1 L846.9,241.7 L849.4,243.3 L852.0,244.8 L854.5,246.4 L857.1,247.9 L859.7,249.5 L862.3,251.1 L864.8,252.7 L867.4,254.3 L869.9,256.0 L872.5,257.7 L875.0,259.4 L877.5,261.1 L880.0,262.9 L882.5,264.8 L884.9,266.6 L887.3,268.6 L889.7,270.5 L892.0,272.5 L894.3,274.6 L896.5,276.7 L898.7,278.8 L900.8,281.0 L902.9,283.2 L904.9,285.4 L906.8,287.7 L908.7,290.0 L910.5,292.3 L912.2,294.7 L913.8,297.1 L915.3,299.6 L916.8,302.1 L918.2,304.6 L919.5,307.1 L920.8,309.7 L922.0,312.3 L923.2,314.9 L924.3,317.6 L925.4,320.3 L926.5,323.0 L927.5,325.7 L928.5,328.5 L929.5,331.3 L930.5,334.1 L931.5,336.9 L932.5,339.8 L933.5,342.7 L934.5,345.5 L935.5,348.4 L936.5,351.3 L937.6,354.1 L938.7,357.0 L939.8,359.9 L941.0,362.7 L942.2,365.5 L943.5,368.3 L944.9,371.1 L946.3,373.8 L947.8,376.5 L949.4,379.1 L951.0,381.7 L952.8,384.3 L954.6,386.8 L956.6,389.2 L958.6,391.6 L960.7,393.9 L962.9,396.2 L965.2,398.3 L967.5,400.4 L969.9,402.5 L972.3,404.4 L974.8,406.2 L977.3,408.0 L979.8,409.6 L982.3,411.2 L984.8,412.6 L987.4,414.0 L990.0,415.3 L992.6,416.5 L995.2,417.7 L997.9,418.8 L1000.5,419.8 L1003.2,420.8 L1005.9,421.7 L1008.6,422.5 L1011.3,423.4 L1014.1,424.2 L1016.8,424.9 L1019.6,425.7 L1022.4,426.4 L1025.2,427.1 L1028.0,427.7 L1030.8,428.4 L1033.6,429.0 L1036.5,429.7 L1039.3,430.4 L1042.2,431.0 L1045.1,431.7 L1047.9,432.4 L1050.8,433.0 L1053.7,433.7 L1056.7,434.3 L1059.6,435.0 L1062.5,435.7 L1065.4,436.3 L1068.4,437.0 L1071.3,437.6 L1074.3,438.2 L1077.2,438.9 L1080.2,439.5 L1083.2,440.1 L1086.2,440.7 L1089.1,441.3 L1092.1,441.9 L1095.1,442.5 L1098.1,443.1 L1101.1,443.7 L1104.1,444.2 L1107.1,444.8 L1110.1,445.4 L1113.1,446.0 L1116.1,446.6 L1119.0,447.2 L1122.0,447.8 L1125.0,448.4 L1128.0,449.0 L1131.0,449.6 L1134.0,450.2 L1137.0,450.9 L1140.0,451.5 L1142.9,452.2 L1145.9,452.9 L1148.9,453.6 L1151.8,454.3 L1154.8,455.0 L1157.7,455.8 L1160.7,456.5 L1163.6,457.3 L1166.5,458.1 L1169.4,459.0 L1172.4,459.8 L1175.3,460.7 L1178.2,461.7 L1181.0,462.6 L1183.9,463.6 L1186.8,464.6 L1189.6,465.6 L1192.5,466.7 L1195.3,467.7 L1198.1,468.8 L1200.9,470.0 L1203.7,471.1 L1206.5,472.3 L1209.3,473.5 L1212.0,474.7 L1214.8,476.0 L1217.5,477.2 L1220.2,478.5 L1223.0,479.8 L1225.6,481.1 L1228.3,482.4 L1231.0,483.8 L1233.6,485.2 L1236.3,486.5 L1238.9,487.9 L1241.5,489.3 L1244.1,490.8 L1246.6,492.2 L1249.2,493.6 L1251.7,495.1 L1254.2,496.6 L1256.7,498.1 L1259.2,499.6 L1261.6,501.1 L1264.1,502.6 L1266.5,504.2 L1268.9,505.8 L1271.3,507.5 L1273.7,509.1 L1276.0,510.9 L1278.3,512.6 L1280.6,514.4 L1282.9,516.3 L1285.2,518.2 L1287.4,520.1 L1289.6,522.2 L1291.8,524.2 L1294.0,526.4 L1296.1,528.5 L1298.2,530.8 L1300.3,533.0 L1302.3,535.3 L1304.3,537.7 L1306.3,540.1 L1308.2,542.5 L1310.1,545.0 L1311.9,547.5 L1313.7,550.0 L1315.5,552.6 L1317.2,555.2 L1318.8,557.8 L1320.4,560.5 L1322.0,563.2 L1323.5,565.9 L1324.9,568.6 L1326.3,571.3 L1327.6,574.1 L1328.8,576.8 L1330.0,579.6 L1331.1,582.4 L1332.2,585.2 L1333.1,588.0 L1334.1,590.8 L1334.9,593.6 L1335.7,596.4 L1336.4,599.2 L1337.1,602.1 L1337.8,604.9 L1338.4,607.7 L1339.0,610.6 L1339.6,613.4 L1340.1,616.3 L1340.7,619.1 L1341.2,622.0 L1341.8,624.8 L1342.3,627.7 L1342.9,630.6 L1343.5,633.4 L1344.1,636.3 L1344.8,639.2 L1345.4,642.1 L1346.2,645.0 L1346.9,647.9 L1347.7,650.8 L1348.5,653.7 L1349.3,656.6 L1350.1,659.5 L1351.0,662.4 L1351.8,665.3 L1352.7,668.2 L1353.6,671.1 L1354.5,674.1 L1355.3,677.0 L1356.2,679.9 L1357.1,682.8 L1357.9,685.8 L1358.7,688.7 L1359.6,691.6 L1360.4,694.6 L1361.2,697.5 L1361.9,700.4 L1362.7,703.4 L1363.4,706.3 L1364.2,709.3 L1364.9,712.2 L1365.6,715.1 L1366.3,718.1 L1367.0,721.0 L1367.7,724.0 L1368.3,726.9 L1369.0,729.9 L1369.6,732.8 L1370.3,735.8 L1370.9,738.7 L1371.6,741.7 L1372.2,744.6 L1372.8,747.5 L1373.4,750.5 L1374.0,753.4 L1374.7,756.4 L1375.3,759.3 L1375.9,762.3 L1376.5,765.2 L1377.1,768.2 L1377.7,771.1 L1378.3,774.0 L1378.9,777.0 L1379.5,779.9 L1380.2,782.9 L1380.8,785.8 L1381.4,788.7 L1382.0,791.7 L1382.7,794.6 L1383.3,797.5 L1384.0,800.5 L1384.6,803.4 L1385.3,806.3 L1385.9,809.2 L1386.6,812.1 L1387.3,815.1 L1388.0,818.0 L1388.7,820.9 L1389.3,823.8 L1390.0,826.7 L1390.7,829.6 L1391.4,832.5 L1392.1,835.5 L1392.9,838.4 L1393.6,841.3 L1394.3,844.2 L1395.0,847.1 L1395.7,850.0 L1396.5,852.9 L1397.2,855.8 L1397.9,858.7 L1398.6,861.6 L1399.4,864.5 L1400.1,867.4 L1400.9,870.3 L1401.6,873.2 L1402.3,876.1 L1403.1,879.0 L1403.8,881.9 L1404.6,884.8 L1405.3,887.7 L1406.1,890.6 L1406.8,893.5 L1407.6,896.4 L1408.3,899.3 L1409.1,902.2 L1409.8,905.1 L1410.6,908.0 L1411.3,910.9 L1412.1,913.8 L1412.8,916.7 L1413.6,919.7 L1414.3,922.6 L1415.1,925.5 L1415.8,928.4 L1416.6,931.3 L1417.3,934.2 L1418.1,937.1 L1418.8,940.0 L1419.5,942.9 L1420.3,945.9 L1421.0,948.8 L1421.7,951.7 L1422.5,954.6 L1423.2,957.5 L1423.9,960.5 L1424.6,963.4 L1425.4,966.3 L1426.1,969.2 L1426.9,972.1 L1427.7,975.0 L1428.4,977.9 L1429.2,980.8 L1430.0,983.7 L1430.8,986.6 L1431.7,989.5 L1432.6,992.4 L1433.4,995.2 L1434.3,998.1 L1435.3,1000.9 L1436.2,1003.8 L1437.2,1006.6 L1438.3,1009.4 L1439.3,1012.2 L1440.4,1015.0 L1441.5,1017.8 L1442.7,1020.6 L1443.9,1023.3 L1445.1,1026.0 L1446.4,1028.7 L1447.8,1031.4 L1449.1,1034.1 L1450.6,1036.8 L1452.0,1039.4 L1453.5,1042.0 L1455.1,1044.6 L1456.6,1047.2 L1458.3,1049.8 L1459.9,1052.3 L1461.6,1054.8 L1463.3,1057.3 L1465.1,1059.8 L1466.9,1062.2 L1468.7,1064.6 L1470.6,1067.0 L1472.4,1069.4 L1474.3,1071.7 L1476.3,1074.0 L1478.2,1076.3 L1480.2,1078.5 L1482.2,1080.7 L1484.3,1082.9 L1486.3,1085.1 L1488.4,1087.2 L1490.5,1089.3 L1492.6,1091.3 L1494.7,1093.4 L1496.9,1095.4 L1499.1,1097.4 L1501.2,1099.3 L1503.4,1101.2 L1505.7,1103.2 L1507.9,1105.1 L1510.1,1106.9 L1512.4,1108.8 L1514.7,1110.6 L1517.0,1112.5 L1519.3,1114.3 L1521.6,1116.1 L1524.0,1117.9 L1526.3,1119.7 L1528.7,1121.5 L1531.0,1123.3 L1533.4,1125.0 L1535.8,1126.8 L1538.2,1128.6 L1540.6,1130.4 L1543.0,1132.1 L1545.5,1133.9 L1547.9,1135.7 L1550.3,1137.5 L1552.8,1139.3 L1555.2,1141.1 L1557.7,1142.9 L1560.2,1144.7 L1562.6,1146.6 L1565.1,1148.4 L1567.6,1150.3 L1570.1,1152.1 L1572.6,1154.0 L1575.1,1155.8 L1577.5,1157.7 L1580.0,1159.5 L1582.5,1161.3 L1585.0,1163.2 L1587.5,1165.0 L1590.0,1166.8 L1592.5,1168.6 L1595.0,1170.3 L1597.5,1172.1 L1600.0,1173.8 L1602.5,1175.5 L1604.9,1177.2 L1607.4,1178.9 L1609.9,1180.5 L1612.4,1182.1 L1614.9,1183.7 L1617.4,1185.3 L1619.9,1186.9 L1622.4,1188.4 L1624.9,1189.9 L1627.4,1191.4 L1629.9,1192.8 L1632.4,1194.3 L1635.0,1195.7 L1637.5,1197.1 L1640.1,1198.5 L1642.7,1199.8 L1645.3,1201.2 L1647.9,1202.5 L1650.5,1203.8 L1653.2,1205.1 L1655.8,1206.3 L1658.5,1207.6 L1661.2,1208.8 L1664.0,1210.0 L1666.7,1211.2 L1669.5,1212.3 L1672.3,1213.5 L1675.2,1214.6 L1678.0,1215.7 L1680.9,1216.8 L1683.9,1217.8 L1686.8,1218.9 L1689.8,1219.9 L1689.8,1219.9 L1740.0,1219.9 L1800.0,1219.0 L1956.0,1217.8" stroke="#1A6FDF" stroke-linecap="butt" />
<path d="M321.2,98.8 L324.2,98.9 L327.2,99.1 L330.2,99.2 L333.2,99.3 L336.2,99.5 L339.2,99.6 L342.2,99.7 L345.2,99.8 L348.2,99.9 L351.2,100.0 L354.2,100.1 L357.2,100.2 L360.2,100.3 L363.2,100.4 L366.2,100.4 L369.2,100.5 L372.2,100.6 L375.2,100.7 L378.2,100.7 L381.2,100.8 L384.2,100.8 L387.2,100.9 L390.2,100.9 L393.2,101.0 L396.2,101.0 L399.2,101.1 L402.2,101.1 L405.2,101.1 L408.2,101.1 L411.2,101.2 L414.2,101.2 L417.1,101.2 L420.1,101.2 L423.1,101.3 L426.1,101.3 L429.1,101.3 L432.1,101.3 L435.1,101.3 L438.1,101.3 L441.1,101.3 L444.1,101.3 L447.1,101.3 L450.1,101.3 L453.1,101.3 L456.1,101.3 L459.1,101.3 L462.1,101.3 L465.1,101.3 L468.1,101.3 L471.1,101.3 L474.0,101.3 L477.0,101.2 L480.0,101.2 L483.0,101.2 L486.0,101.2 L489.0,101.2 L492.0,101.2 L495.0,101.2 L498.0,101.2 L501.0,101.1 L504.0,101.1 L507.0,101.1 L510.0,101.1 L513.0,101.1 L516.0,101.1 L519.0,101.1 L522.0,101.0 L525.0,101.0 L528.0,101.0 L531.0,101.0 L534.0,101.0 L537.0,101.0 L540.0,101.0 L543.0,101.0 L546.0,101.0 L549.1,101.0 L552.1,101.0 L555.1,101.0 L558.1,101.0 L561.1,101.0 L564.1,101.0 L567.1,101.0 L570.1,101.0 L573.1,101.0 L576.1,101.1 L579.2,101.1 L582.2,101.1 L585.2,101.1 L588.2,101.1 L591.2,101.2 L594.2,101.2 L597.3,101.2 L600.3,101.3 L603.3,101.3 L606.3,101.4 L609.3,101.4 L612.4,101.5 L615.4,101.5 L618.4,101.6 L621.4,101.6 L624.5,101.7 L627.5,101.8 L630.5,101.8 L633.5,101.9 L636.6,102.0 L639.6,102.1 L642.6,102.2 L645.7,102.3 L648.7,102.4 L651.7,102.5 L654.7,102.7 L657.7,102.9 L660.7,103.1 L663.7,103.4 L666.7,103.7 L669.6,104.0 L672.5,104.5 L675.4,104.9 L678.2,105.5 L681.1,106.1 L683.8,106.8 L686.6,107.6 L689.3,108.5 L692.0,109.5 L694.6,110.5 L697.2,111.7 L699.7,113.0 L702.2,114.4 L704.6,116.0 L706.9,117.6 L709.2,119.4 L711.5,121.4 L713.6,123.4 L715.7,125.7 L717.8,128.0 L719.7,130.5 L721.6,133.1 L723.5,135.8 L725.2,138.6 L727.0,141.4 L728.6,144.3 L730.2,147.2 L731.8,150.1 L733.3,153.0 L734.7,155.9 L736.1,158.7 L737.5,161.5 L738.8,164.2 L740.1,166.8 L741.3,169.4 L742.5,171.9 L743.7,174.4 L744.8,176.9 L745.9,179.4 L747.0,181.9 L748.1,184.4 L749.1,187.0 L750.1,189.7 L751.0,192.4 L752.0,195.1 L752.9,198.0 L753.8,200.8 L754.7,203.7 L755.6,206.6 L756.5,209.6 L757.3,212.6 L758.2,215.5 L759.0,218.5 L759.9,221.5 L760.7,224.5 L761.6,227.5 L762.4,230.5 L763.3,233.5 L764.1,236.4 L765.0,239.4 L765.9,242.3 L766.8,245.2 L767.6,248.0 L768.5,250.9 L769.4,253.7 L770.3,256.5 L771.2,259.3 L772.1,262.2 L773.0,264.9 L773.9,267.7 L774.9,270.5 L775.8,273.3 L776.7,276.1 L777.6,278.8 L778.5,281.6 L779.5,284.4 L780.4,287.2 L781.3,290.0 L782.2,292.8 L783.2,295.6 L784.1,298.4 L785.0,301.2 L785.9,304.1 L786.8,306.9 L787.8,309.8 L788.7,312.7 L789.6,315.6 L790.5,318.6 L791.4,321.5 L792.3,324.5 L793.2,327.5 L794.1,330.6 L795.0,333.6 L795.9,336.7 L796.8,339.8 L797.7,342.9 L798.7,346.0 L799.7,348.9 L800.8,351.8 L802.0,354.6 L803.3,357.3 L804.7,359.8 L806.3,362.2 L807.9,364.4 L809.8,366.3 L811.8,368.1 L814.0,369.6 L816.4,370.8 L819.0,371.8 L821.7,372.6 L824.5,373.2 L827.4,373.7 L830.4,374.2 L833.3,374.7 L836.3,375.1 L839.2,375.5 L842.2,375.9 L845.2,376.3 L848.1,376.7 L851.1,377.1 L854.1,377.4 L857.1,377.8 L860.0,378.1 L863.0,378.4 L866.0,378.8 L869.0,379.1 L872.0,379.4 L875.0,379.7 L878.0,380.0 L881.0,380.3 L884.0,380.6 L887.0,380.9 L890.0,381.2 L893.0,381.5 L896.1,381.8 L899.1,382.1 L902.1,382.4 L905.1,382.7 L908.1,382.9 L911.2,383.2 L914.2,383.6 L917.2,383.9 L920.2,384.2 L923.3,384.5 L926.3,384.8 L929.3,385.1 L932.3,385.5 L935.4,385.8 L938.4,386.2 L941.4,386.6 L944.4,387.0 L947.4,387.4 L950.4,387.9 L953.3,388.4 L956.3,389.0 L959.2,389.6 L962.1,390.2 L965.0,390.9 L967.9,391.6 L970.7,392.4 L973.5,393.3 L976.3,394.2 L979.1,395.2 L981.8,396.3 L984.5,397.5 L987.2,398.7 L989.8,400.0 L992.3,401.4 L994.9,402.9 L997.4,404.5 L999.8,406.2 L1002.2,408.0 L1004.6,409.8 L1006.8,411.8 L1009.1,413.9 L1011.2,416.0 L1013.3,418.3 L1015.2,420.6 L1017.1,423.0 L1018.9,425.4 L1020.5,428.0 L1022.1,430.5 L1023.5,433.2 L1024.9,435.9 L1026.1,438.6 L1027.3,441.4 L1028.4,444.2 L1029.4,447.0 L1030.4,449.9 L1031.3,452.8 L1032.1,455.7 L1033.0,458.6 L1033.7,461.6 L1034.5,464.5 L1035.2,467.5 L1035.9,470.4 L1036.5,473.4 L1037.2,476.3 L1037.8,479.3 L1038.5,482.2 L1039.1,485.2 L1039.7,488.2 L1040.3,491.1 L1040.8,494.1 L1041.4,497.0 L1042.0,500.0 L1042.5,502.9 L1043.1,505.9 L1043.6,508.8 L1044.2,511.8 L1044.7,514.7 L1045.2,517.6 L1045.8,520.6 L1046.3,523.5 L1046.8,526.5 L1047.4,529.4 L1047.9,532.3 L1048.5,535.3 L1049.0,538.2 L1049.6,541.1 L1050.1,544.1 L1050.7,547.0 L1051.3,549.9 L1051.9,552.8 L1052.6,555.8 L1053.2,558.7 L1053.8,561.6 L1054.5,564.5 L1055.2,567.4 L1055.9,570.3 L1056.6,573.2 L1057.4,576.1 L1058.2,579.0 L1058.9,581.9 L1059.8,584.8 L1060.6,587.7 L1061.4,590.6 L1062.3,593.4 L1063.2,596.3 L1064.1,599.2 L1065.0,602.1 L1066.0,604.9 L1066.9,607.8 L1067.9,610.6 L1068.9,613.5 L1069.9,616.3 L1070.9,619.2 L1071.9,622.0 L1072.9,624.9 L1073.9,627.7 L1075.0,630.5 L1076.1,633.3 L1077.1,636.1 L1078.2,639.0 L1079.3,641.8 L1080.4,644.6 L1081.5,647.4 L1082.5,650.2 L1083.7,652.9 L1084.8,655.7 L1085.9,658.5 L1087.0,661.3 L1088.1,664.0 L1089.2,666.8 L1090.3,669.5 L1091.4,672.3 L1092.6,675.0 L1093.7,677.7 L1094.9,680.4 L1096.1,683.2 L1097.3,685.8 L1098.6,688.5 L1100.0,691.2 L1101.4,693.8 L1103.0,696.4 L1104.6,699.0 L1106.4,701.6 L1108.2,704.1 L1110.2,706.6 L1112.4,708.9 L1114.7,711.0 L1117.1,712.7 L1119.7,714.1 L1122.4,715.3 L1125.2,716.3 L1128.0,717.1 L1130.9,717.8 L1133.8,718.5 L1136.7,719.2 L1139.6,719.8 L1142.5,720.6 L1145.3,721.3 L1148.2,722.1 L1151.0,723.0 L1153.8,723.9 L1156.5,724.8 L1159.3,725.8 L1162.0,726.8 L1164.8,727.9 L1167.5,729.0 L1170.2,730.2 L1172.8,731.4 L1175.5,732.7 L1178.1,734.0 L1180.7,735.4 L1183.3,736.9 L1185.9,738.4 L1188.4,740.0 L1191.0,741.6 L1193.5,743.2 L1196.0,744.9 L1198.5,746.7 L1201.0,748.5 L1203.5,750.3 L1205.9,752.1 L1208.3,754.0 L1210.8,755.9 L1213.2,757.7 L1215.5,759.7 L1217.9,761.6 L1220.3,763.5 L1222.6,765.4 L1224.9,767.4 L1227.2,769.3 L1229.5,771.3 L1231.8,773.3 L1234.1,775.3 L1236.3,777.3 L1238.6,779.4 L1240.8,781.4 L1243.0,783.4 L1245.2,785.5 L1247.4,787.6 L1249.6,789.7 L1251.7,791.7 L1253.9,793.9 L1256.0,796.0 L1258.1,798.1 L1260.3,800.2 L1262.4,802.4 L1264.4,804.5 L1266.5,806.7 L1268.6,808.9 L1270.6,811.0 L1272.7,813.2 L1274.7,815.4 L1276.7,817.6 L1278.7,819.9 L1280.7,822.1 L1282.7,824.3 L1284.7,826.6 L1286.7,828.8 L1288.6,831.1 L1290.6,833.4 L1292.5,835.6 L1294.5,837.9 L1296.4,840.2 L1298.3,842.5 L1300.2,844.8 L1302.1,847.1 L1304.0,849.4 L1305.9,851.8 L1307.7,854.1 L1309.6,856.4 L1311.4,858.8 L1313.3,861.1 L1315.1,863.5 L1317.0,865.8 L1318.8,868.2 L1320.6,870.6 L1322.4,873.0 L1324.2,875.3 L1326.0,877.7 L1327.8,880.1 L1329.6,882.5 L1331.4,884.9 L1333.1,887.3 L1334.9,889.7 L1336.7,892.1 L1338.4,894.6 L1340.2,897.0 L1341.9,899.4 L1343.7,901.8 L1345.4,904.3 L1347.2,906.7 L1348.9,909.1 L1350.6,911.6 L1352.4,914.0 L1354.1,916.4 L1355.8,918.9 L1357.5,921.3 L1359.3,923.8 L1361.0,926.2 L1362.7,928.7 L1364.4,931.1 L1366.2,933.6 L1367.9,936.0 L1369.6,938.5 L1371.3,941.0 L1373.0,943.4 L1374.8,945.9 L1376.5,948.3 L1378.2,950.8 L1379.9,953.2 L1381.7,955.7 L1383.4,958.2 L1385.1,960.6 L1386.9,963.1 L1388.6,965.5 L1390.4,968.0 L1392.1,970.4 L1393.9,972.9 L1395.6,975.3 L1397.4,977.8 L1399.2,980.2 L1400.9,982.7 L1402.7,985.1 L1404.5,987.6 L1406.3,990.0 L1408.1,992.4 L1409.9,994.9 L1411.7,997.3 L1413.5,999.7 L1415.3,1002.1 L1417.1,1004.5 L1419.0,1006.9 L1420.8,1009.3 L1422.7,1011.7 L1424.5,1014.1 L1426.4,1016.5 L1428.2,1018.8 L1430.1,1021.2 L1432.0,1023.6 L1433.9,1025.9 L1435.8,1028.2 L1437.7,1030.6 L1439.7,1032.9 L1441.6,1035.2 L1443.6,1037.5 L1445.5,1039.8 L1447.5,1042.1 L1449.5,1044.3 L1451.5,1046.6 L1453.5,1048.8 L1455.5,1051.0 L1457.5,1053.3 L1459.5,1055.5 L1461.6,1057.7 L1463.7,1059.8 L1465.7,1062.0 L1467.8,1064.1 L1469.9,1066.3 L1472.0,1068.4 L1474.2,1070.5 L1476.3,1072.6 L1478.5,1074.6 L1480.6,1076.7 L1482.8,1078.7 L1485.0,1080.7 L1487.2,1082.8 L1489.4,1084.7 L1491.7,1086.7 L1493.9,1088.6 L1496.2,1090.6 L1498.5,1092.5 L1500.8,1094.4 L1503.1,1096.2 L1505.5,1098.1 L1507.8,1099.9 L1510.2,1101.7 L1512.6,1103.5 L1515.0,1105.3 L1517.4,1107.0 L1519.9,1108.7 L1522.3,1110.4 L1524.8,1112.1 L1527.3,1113.7 L1529.8,1115.3 L1532.4,1116.9 L1534.9,1118.4 L1537.5,1119.9 L1540.1,1121.4 L1542.7,1122.8 L1545.3,1124.2 L1548.0,1125.6 L1550.7,1126.9 L1553.4,1128.1 L1556.1,1129.4 L1558.8,1130.5 L1561.6,1131.6 L1564.4,1132.7 L1567.2,1133.7 L1570.0,1134.6 L1572.8,1135.5 L1575.7,1136.3 L1578.6,1137.0 L1581.5,1137.7 L1584.5,1138.4 L1587.4,1138.9 L1590.4,1139.4 L1593.4,1139.8 L1596.5,1140.1 L1599.5,1140.4 L1602.6,1140.6 L1605.7,1140.7 L1608.8,1140.7 L1612.0,1140.6 L1612.0,1140.6 L1760.0,1140.7 L1956.0,1141.0" stroke="#37AD6B" stroke-linecap="butt" />

</g>
<g><line x1="1288.3" y1="98.3" x2="1441.3" y2="98.3" stroke="#515151" stroke-width="13" stroke-linecap="round" /><text x="1459.8" y="122.0" font-size="68.5">Mn-MOF-Sphe</text><line x1="1288.3" y1="184.0" x2="1441.3" y2="184.0" stroke="#F14040" stroke-width="13" stroke-linecap="round" /><text x="1459.8" y="207.7" font-size="68.5">Mn-MOF-Leaf</text><line x1="1288.3" y1="269.7" x2="1441.3" y2="269.7" stroke="#1A6FDF" stroke-width="13" stroke-linecap="round" /><text x="1459.8" y="293.4" font-size="68.5">Mn-MOF-Rod</text><line x1="1288.3" y1="355.4" x2="1441.3" y2="355.4" stroke="#37AD6B" stroke-width="13" stroke-linecap="round" /><text x="1459.8" y="379.1" font-size="68.5">Mn-MOF-Cube</text></g>
<g><text x="1476.2" y="1048.5" fill="#37AD6B" font-size="82">545 °C</text><text x="1717.6" y="1105.8" fill="#1A6FDF" font-size="82">593 °C</text><text x="1151.4" y="1180.2" fill="#F14040" font-size="82">502 °C</text><text x="1188.4" y="1296.9" fill="#515151" font-size="82">506 °C</text></g>
<text x="1138.8" y="1613.8" font-size="111.7" text-anchor="middle">Temperature (°C)</text>
<text transform="translate(107.4,685) rotate(-90)" font-size="111.7" text-anchor="middle">Weight loss (%)</text>
</svg>
</body></html>
